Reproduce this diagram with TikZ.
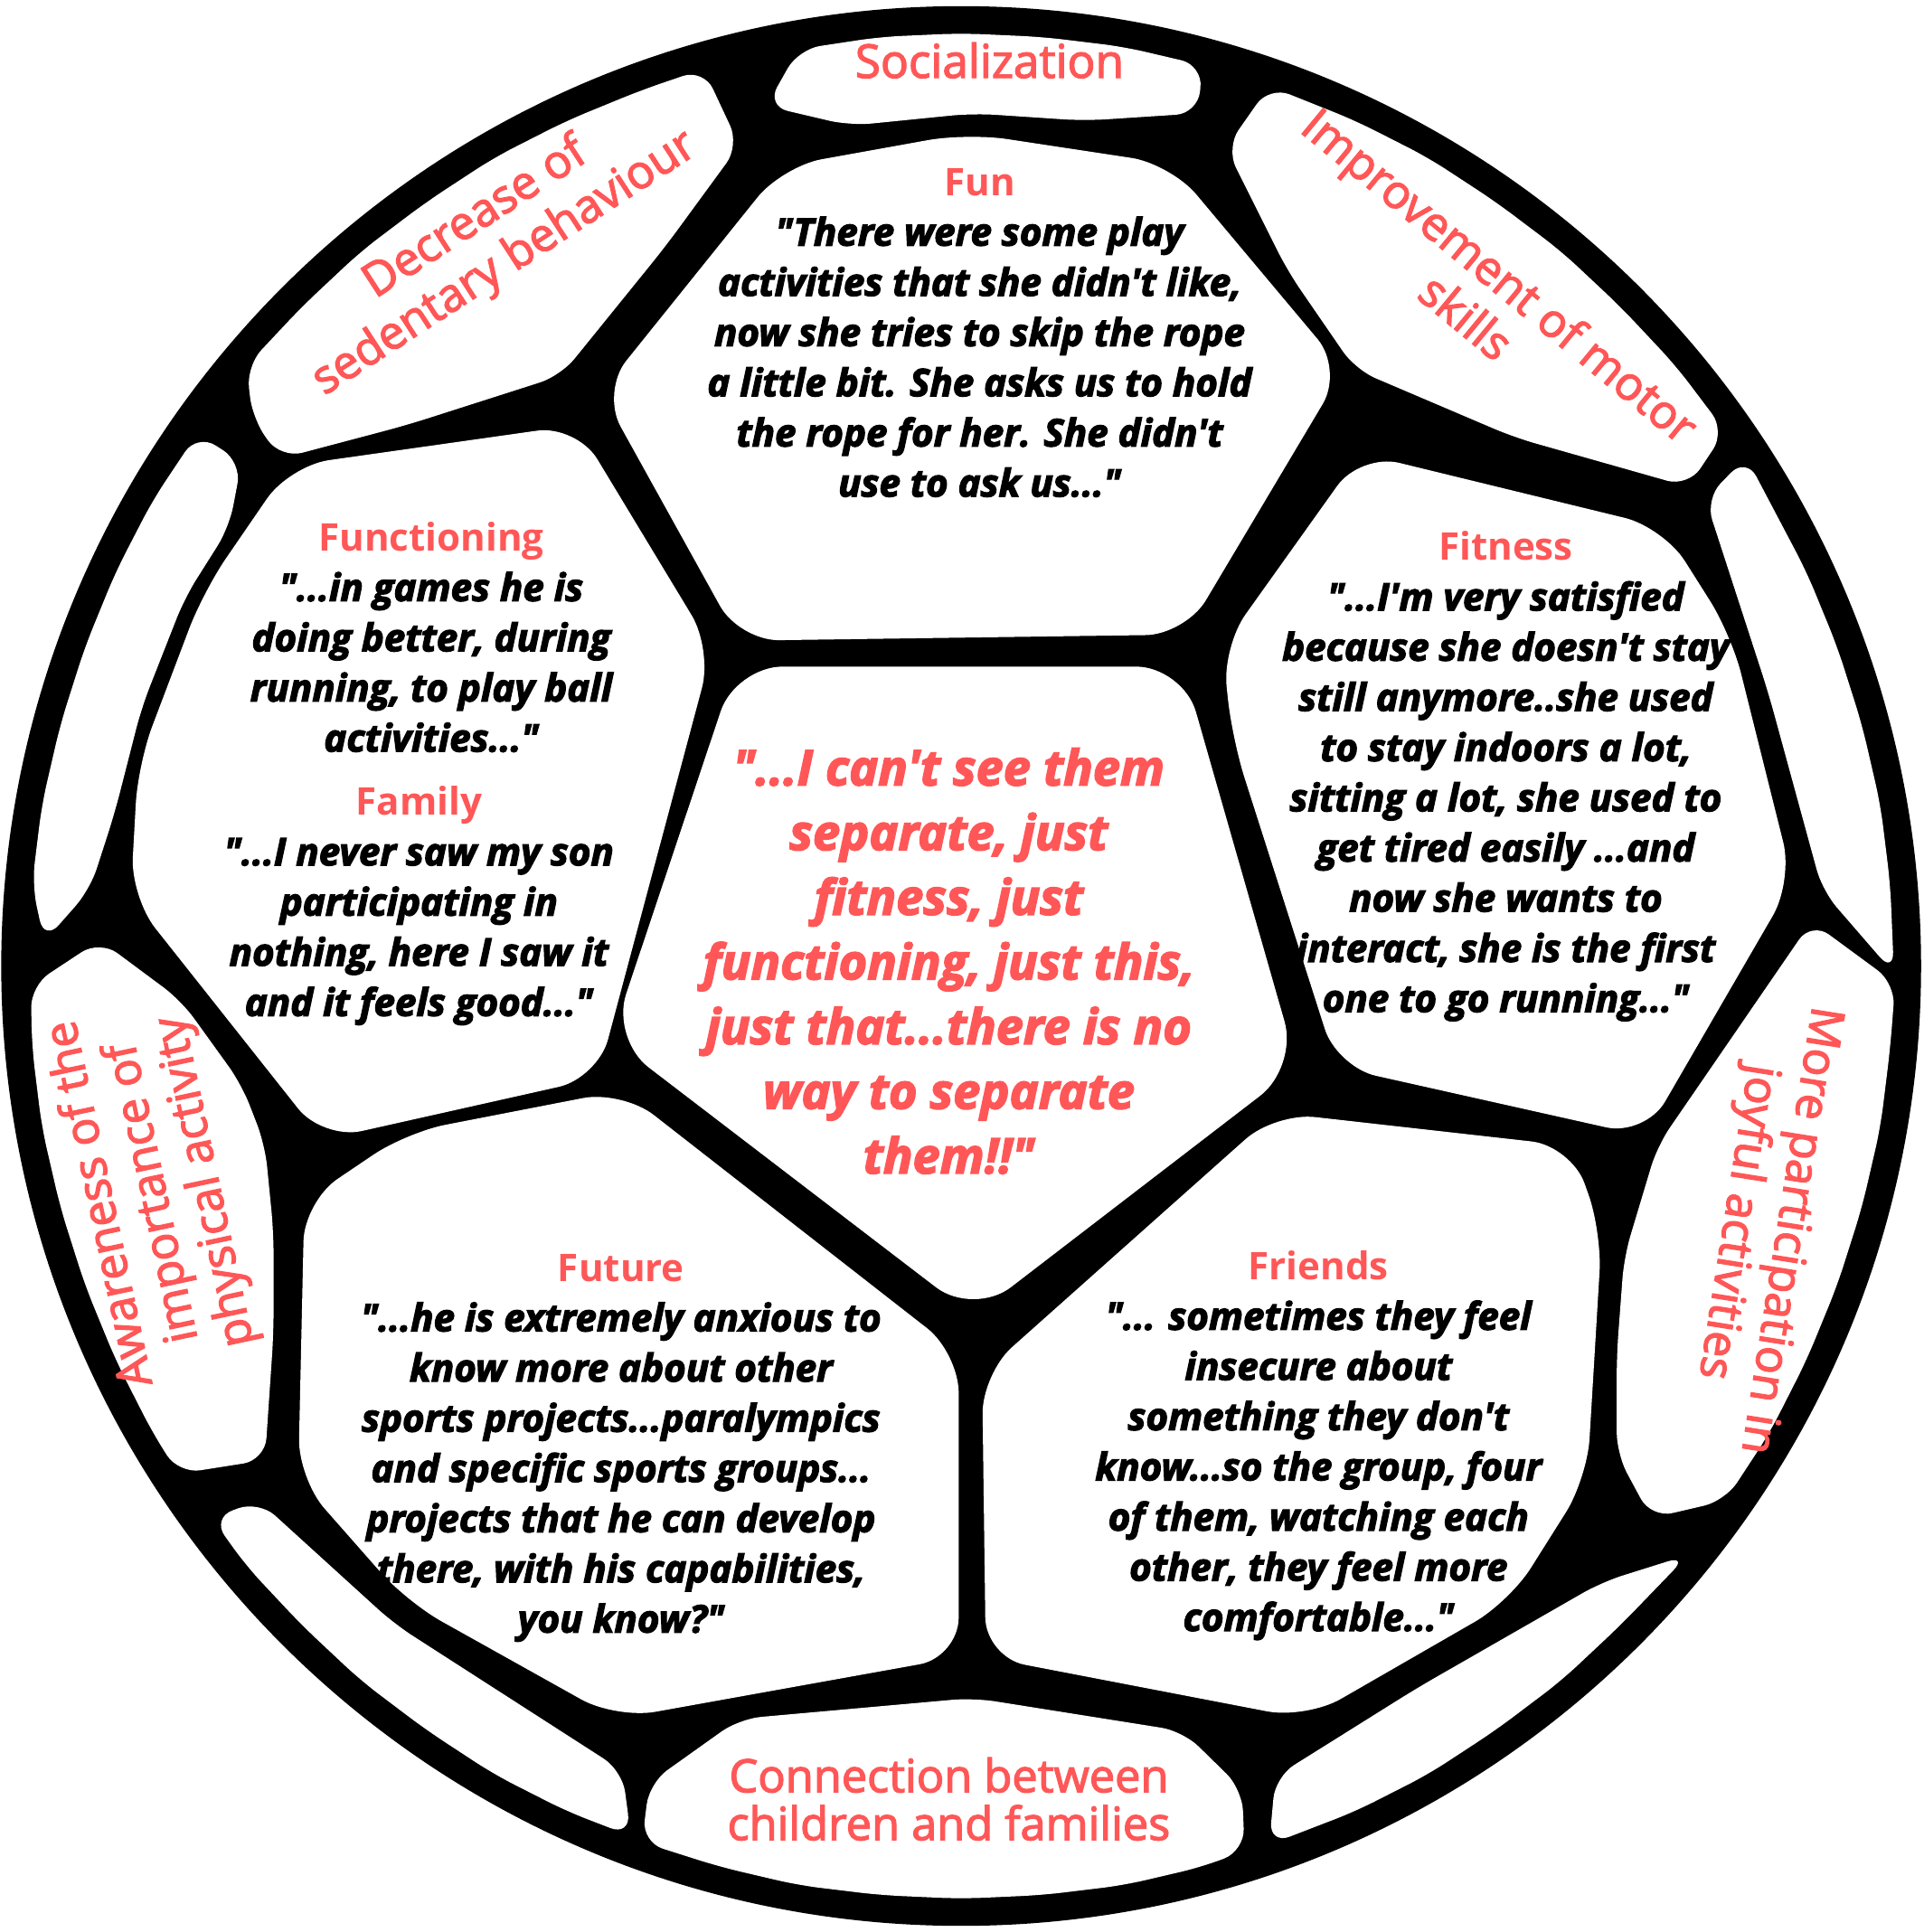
\documentclass[tikz,border=0pt]{standalone}
\usepackage{fontspec}
\newfontfamily\ballfont{Open Sans}[BoldItalicFeatures={FakeBold=3}]
\newfontfamily\labelfont{Open Sans}[FakeBold=2.5]
\usepackage{tikz}

\definecolor{lred}{HTML}{FF5757}
\tikzset{
  patch/.style={fill=white, rounded corners=6pt},
  redlabel/.style={text=lred, align=center, inner sep=0pt, font=\labelfont\fontsize{12.8}{14.8}\selectfont},
  quote/.style={align=center, inner sep=0pt, font=\ballfont\fontsize{10.5}{13.85}\selectfont\bfseries\itshape},
  bigquote/.style={text=lred, align=center, inner sep=0pt, font=\ballfont\fontsize{13.5}{17.85}\selectfont\bfseries\itshape},
}
\newcommand{\ttl}[1]{{\color{lred}\upshape #1}}

\begin{document}
\begin{tikzpicture}[x=0.34pt,y=0.34pt,yscale=-1,xscale=1]
\useasboundingbox (0,0) rectangle (1561,1568);

%Shape: Circle [ball]
\fill[black] (780,784) circle (779);

%Shape: Socialization patch
\fill[patch] (622,86) -- (648,40) -- (714,30) -- (780,27) -- (846,30) -- (912,38) -- (976,53) -- (972,92) -- (880,98) -- (790,92) -- (690,102) -- cycle;
%Shape: Improvement patch
\fill[patch] (1030,70) -- (1100,98) -- (1159,128) -- (1214,164) -- (1267,204) -- (1315,249) -- (1360,297) -- (1400,350) -- (1370,395) -- (1229,355) -- (1100,300) -- (1045,220) -- (995,120) -- cycle;
%Shape: right thin patch
\fill[patch] (1417,371) -- (1466,464) -- (1491,525) -- (1511,588) -- (1526,653) -- (1534,718) -- (1537,790) -- (1479,723) -- (1435,562) -- (1384,405) -- cycle;
%Shape: More participation patch
\fill[patch] (1470,748) -- (1538,798) -- (1534,850) -- (1526,915) -- (1511,980) -- (1491,1043) -- (1466,1104) -- (1436,1163) -- (1400,1218) -- (1340,1232) -- (1312,1180) -- (1312,1100) -- (1318,1020) -- (1345,930) -- cycle;
%Shape: bottom right thin patch
\fill[patch] (1030,1497) -- (1100,1470) -- (1159,1440) -- (1214,1404) -- (1267,1364) -- (1315,1319) -- (1370,1262) -- (1300,1284) -- (1150,1370) -- (1035,1442) -- cycle;
%Shape: Connection patch
\fill[patch] (527,1447) -- (600,1395) -- (790,1378) -- (960,1405) -- (1008,1452) -- (1010,1502) -- (976,1515) -- (912,1530) -- (846,1538) -- (780,1541) -- (714,1538) -- (648,1530) -- (584,1515) -- (521,1495) -- cycle;
%Shape: bottom left thin patch
\fill[patch] (172,1232) -- (200,1271) -- (245,1319) -- (293,1364) -- (346,1404) -- (401,1440) -- (460,1470) -- (512,1490) -- (505,1437) -- (320,1318) -- (210,1218) -- cycle;
%Shape: Awareness patch
\fill[patch] (25,800) -- (81,763) -- (147,812) -- (196,880) -- (215,929) -- (222,1000) -- (222,1082) -- (215,1185) -- (145,1196) -- (124,1163) -- (94,1104) -- (69,1043) -- (49,980) -- (34,915) -- (26,850) -- cycle;
%Shape: left thin patch
\fill[patch] (160,352) -- (124,406) -- (94,464) -- (69,525) -- (49,588) -- (34,653) -- (26,718) -- (36,764) -- (73,722) -- (93,660) -- (115,574) -- (150,485) -- (186,428) -- (196,375) -- cycle;
%Shape: Decrease patch
\fill[patch] (200,297) -- (245,249) -- (293,204) -- (346,164) -- (401,128) -- (460,98) -- (521,73) -- (571,56) -- (600,118) -- (540,200) -- (455,305) -- (330,345) -- (228,372) -- (205,340) -- cycle;

%Shape: Fun patch
\fill[patch,rounded corners=11pt] (635,135) -- (785,108) -- (950,133) -- (1090,300) -- (962,515) -- (600,520) -- (488,318) -- cycle;
%Shape: Functioning and Family patch
\fill[patch,rounded corners=11pt] (235,378) -- (468,345) -- (578,527) -- (485,875) -- (262,925) -- (106,728) -- (112,620) -- (165,480) -- cycle;
%Shape: Fitness patch
\fill[patch,rounded corners=11pt] (1104,368) -- (1350,428) -- (1405,515) -- (1455,715) -- (1335,922) -- (1085,866) -- (1000,600) -- (992,525) -- cycle;
%Shape: Future patch
\fill[patch,rounded corners=11pt] (247,975) -- (330,919) -- (505,885) -- (778,1098) -- (778,1345) -- (500,1395) -- (330,1300) -- (242,1200) -- cycle;
%Shape: Friends patch
\fill[patch,rounded corners=11pt] (797,1115) -- (1035,903) -- (1275,930) -- (1300,1000) -- (1288,1200) -- (1225,1300) -- (1060,1395) -- (800,1345) -- cycle;
%Shape: centre patch
\fill[patch,rounded corners=13pt] (597,541) -- (960,541) -- (1053,866) -- (790,1068) -- (496,843) -- cycle;

% Text Node
\node[redlabel] (social) at (803,49) {Socialization};
% Text Node
\node[redlabel, rotate=33] (decrease) at (398,196) {Decrease of\\sedentary behaviour};
% Text Node
\node[redlabel, rotate=-39.5] (motor) at (1204,240) {Improvement of motor\\skills};
% Text Node
\node[redlabel, rotate=-99] (joyful) at (1430,995) {More participation in\\joyful activities};
% Text Node
\node[redlabel, rotate=102] (aware) at (125,968) {Awareness of the\\importance of\\physical activity};
% Text Node
\node[redlabel, font=\labelfont\fontsize{12.6}{13.2}\selectfont] (connect) at (770,1460) {Connection between\\children and families};

% Text Node
\node[quote] (fun) at (795,270) {\ttl{Fun}\\"There were some play\\activities that she didn\textquotesingle t like,\\now she tries to skip the rope\\a little bit. She asks us to hold\\the rope for her. She didn\textquotesingle t\\use to ask us..."};
% Text Node
\node[quote] (functioning) at (350,517) {\ttl{Functioning}\\"...in games he is\\doing better, during\\running, to play ball\\activities..."};
% Text Node
\node[quote] (family) at (340,735) {\ttl{Family}\\"...I never saw my son\\participating in\\nothing, here I saw it\\and it feels good..."};
% Text Node
\node[quote] (fitness) at (1222,630) {\ttl{Fitness}\\"...I\textquotesingle m very satisfied\\because she doesn\textquotesingle t stay\\still anymore..she used\\to stay indoors a lot,\\sitting a lot, she used to\\get tired easily ...and\\now she wants to\\interact, she is the first\\one to go running..."};
% Text Node
\node[quote] (future) at (504,1175) {\ttl{Future}\\"...he is extremely anxious to\\know more about other\\sports projects...paralympics\\and specific sports groups...\\projects that he can develop\\there, with his capabilities,\\you know?"};
% Text Node
\node[quote] (friends) at (1070,1173) {\ttl{Friends}\\"... sometimes they feel\\insecure about\\something they don\textquotesingle t\\know...so the group, four\\of them, watching each\\other, they feel more\\comfortable..."};
% Text Node
\node[bigquote] (core) at (770,780) {"...I can\textquotesingle t see them\\separate, just\\fitness, just\\functioning, just this,\\just that...there is no\\way to separate\\them!!"};

\end{tikzpicture}
\end{document}
